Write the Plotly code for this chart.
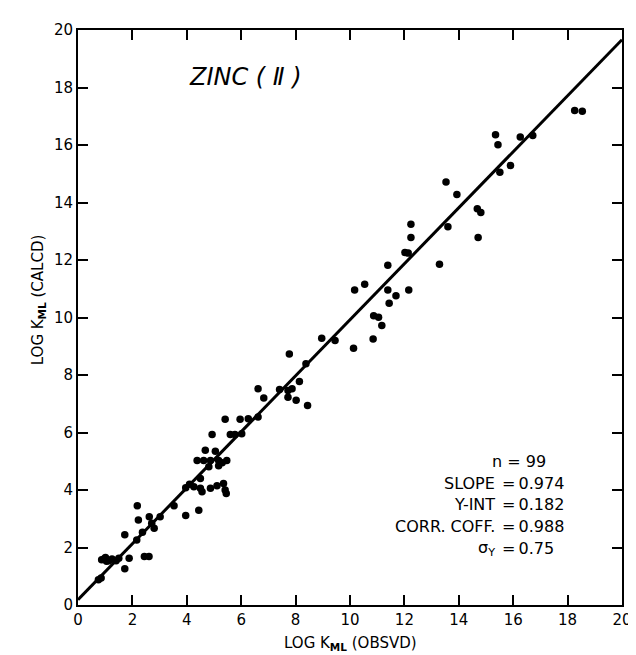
import plotly.graph_objects as go

# ---- data ----
x_obs = [0.75, 0.85, 0.87, 1.01, 1.13, 1.25, 1.40, 1.50, 1.05, 1.88,
         1.72, 2.44, 2.61, 2.16, 1.72, 2.37, 2.22, 2.71, 2.80, 2.18,
         2.62, 3.02, 3.53, 3.96, 4.44, 3.96, 4.26, 4.50, 4.56, 4.87,
         5.11, 5.35, 5.41, 5.45, 4.50, 4.81, 5.17, 4.38, 4.62, 4.87,
         5.17, 5.47, 4.68, 5.05, 4.93, 5.60, 5.77, 6.02, 5.41, 5.96,
         6.26, 6.62, 6.62, 6.83, 7.41, 7.72, 8.02, 8.44, 7.72, 7.87,
         8.14, 7.77, 8.38, 8.96, 9.45, 10.13, 10.17, 10.54, 10.87, 11.05,
         11.17, 10.85, 11.39, 11.44, 11.69, 12.16, 11.39, 12.02, 12.14, 12.24,
         12.24, 13.29, 13.60, 13.53, 13.93, 14.68, 14.81, 14.71, 15.35, 15.44,
         16.26, 16.72, 15.51, 15.90, 18.26, 18.54, 0.95, 4.10, 5.30]
y_calc = [0.88, 0.94, 1.57, 1.65, 1.54, 1.60, 1.54, 1.63, 1.52, 1.63,
          1.26, 1.69, 1.69, 2.26, 2.44, 2.53, 2.96, 2.84, 2.67, 3.45,
          3.07, 3.07, 3.45, 3.11, 3.30, 4.08, 4.11, 4.06, 3.94, 4.06,
          4.15, 4.23, 4.00, 3.88, 4.40, 4.81, 4.84, 5.03, 5.03, 5.03,
          5.03, 5.03, 5.38, 5.35, 5.93, 5.93, 5.93, 5.96, 6.46, 6.46,
          6.48, 6.54, 7.52, 7.20, 7.50, 7.23, 7.12, 6.94, 7.46, 7.52,
          7.77, 8.73, 8.39, 9.28, 9.20, 8.93, 10.96, 11.16, 10.06, 10.01,
          9.72, 9.25, 10.96, 10.50, 10.76, 10.96, 11.82, 12.26, 12.24, 12.78,
          13.24, 11.85, 13.16, 14.71, 14.28, 13.78, 13.65, 12.78, 16.36, 16.01,
          16.28, 16.33, 15.05, 15.29, 17.20, 17.17, 1.60, 4.20, 4.95]

SLOPE = 0.974
Y_INT = 0.182
stat_labels = ["SLOPE", "Y-INT", "CORR. COFF.", "σ<sub>Y</sub>"]
stat_values = ["0.974", "0.182", "0.988", "0.75"]
N_POINTS = 99
tick_vals = list(range(0, 21, 2))

FONT = "DejaVu Sans"

fig = go.Figure()
line_x = [0, 20]
line_y = [SLOPE * v + Y_INT for v in line_x]
fig.add_trace(go.Scatter(x=line_x, y=line_y, mode="lines",
                         line=dict(color="black", width=3), hoverinfo="skip"))
fig.add_trace(go.Scatter(x=x_obs, y=y_calc, mode="markers",
                         marker=dict(color="black", size=7.5)))

axis_common = dict(range=[0, 20], tickvals=tick_vals, ticks="inside", ticklen=10,
                   tickwidth=1.5, tickcolor="black", showline=True, linewidth=2,
                   linecolor="black", mirror="ticks", showgrid=False, zeroline=False,
                   tickfont=dict(family=FONT, size=15, color="black"))

fig.update_layout(
    width=636, height=655,
    margin=dict(l=70, r=15, t=22, b=58),
    paper_bgcolor="white", plot_bgcolor="white",
    showlegend=False,
    xaxis=dict(**axis_common),
    yaxis=dict(**axis_common),
    font=dict(family=FONT, color="black"),
)

annots = []
# axis titles
annots.append(dict(text="LOG K<sub><b>ML</b></sub> (OBSVD)", xref="paper", yref="paper",
                   x=0.5, y=0, yshift=-38, showarrow=False, xanchor="center", yanchor="middle",
                   font=dict(family=FONT, size=15)))
annots.append(dict(text="LOG K<sub><b>ML</b></sub> (CALCD)", xref="paper", yref="paper",
                   x=0, xshift=-40, y=0.53, showarrow=False, textangle=-90,
                   xanchor="center", yanchor="middle", font=dict(family=FONT, size=15)))
# chart label
annots.append(dict(text="<i>ZINC ( Ⅱ )</i>", x=6.15, y=18.35, xref="x", yref="y",
                   showarrow=False, xanchor="center", yanchor="middle",
                   font=dict(family=FONT, size=24)))
# stats block
annots.append(dict(text=f"n = {N_POINTS}", x=16.2, y=5.0, xref="x", yref="y",
                   showarrow=False, xanchor="center", yanchor="middle",
                   font=dict(family=FONT, size=16)))
stat_y = [4.24, 3.49, 2.74, 1.97]
for lab, val, yy in zip(stat_labels, stat_values, stat_y):
    annots.append(dict(text=lab, x=15.51, y=yy, xref="x", yref="y", xshift=-3,
                       showarrow=False, xanchor="right", yanchor="middle",
                       font=dict(family=FONT, size=16)))
    annots.append(dict(text="=" + "\u2009" + val, x=15.51, y=yy, xref="x", yref="y",
                       showarrow=False, xanchor="left", yanchor="middle",
                       font=dict(family=FONT, size=16)))
fig.update_layout(annotations=annots)

fig.write_html("out.html")
